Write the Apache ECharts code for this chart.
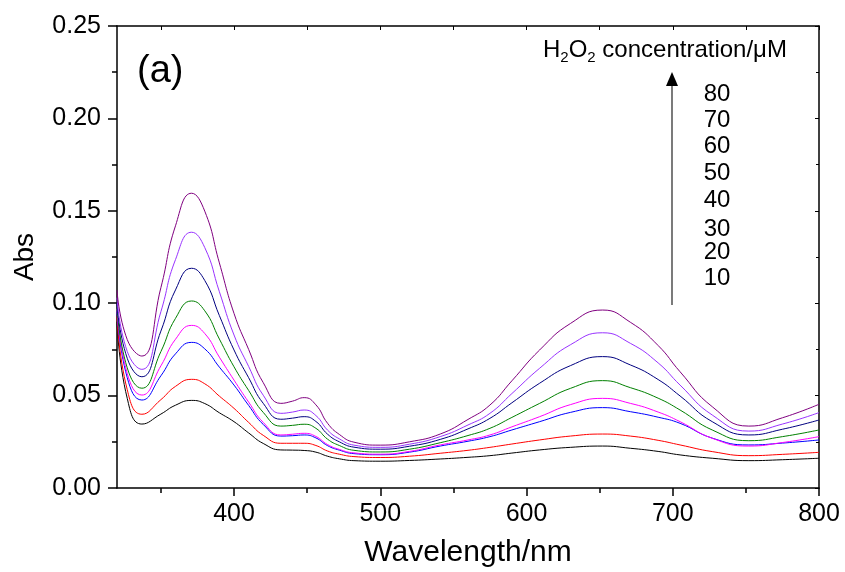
<!DOCTYPE html>
<html>
<head>
<meta charset="utf-8">
<script src="https://cdn.jsdelivr.net/npm/echarts@6/dist/echarts.min.js"></script>
<style>
  html, body { margin: 0; padding: 0; background: #fff; }
  #container { width: 845px; height: 572px; }
</style>
</head>
<body>
<div id="container"></div>
<script>
var dom = document.getElementById("container");
var myChart = echarts.init(dom);

// wavelength (nm) sampled along the spectra
var wavelengths = [320, 327, 337, 350, 360, 371, 380, 390, 400, 410, 420, 432, 440, 448, 456, 464, 472, 482,
    500, 520, 541, 560, 575, 590, 609, 630, 652, 671, 690, 705, 727, 752, 775, 800];

// absorbance for each H2O2 concentration (uM)
var abs10 = [0.090, 0.0485, 0.0346, 0.0400, 0.0448, 0.0474, 0.0457, 0.0407, 0.0359, 0.0298, 0.0241, 0.0206, 0.0205, 0.0203, 0.0194, 0.0172, 0.0158, 0.0148,
    0.0145, 0.0149, 0.0157, 0.0166, 0.0175, 0.0189, 0.0206, 0.0220, 0.0227, 0.0215, 0.0198, 0.0179, 0.0161, 0.0148, 0.0153, 0.0161];
var abs20 = [0.093, 0.0532, 0.0399, 0.0478, 0.0550, 0.0588, 0.0564, 0.0497, 0.0431, 0.0355, 0.0285, 0.0242, 0.0242, 0.0242, 0.0230, 0.0200, 0.0183, 0.0170,
    0.0165, 0.0172, 0.0188, 0.0204, 0.0220, 0.0238, 0.0260, 0.0281, 0.0292, 0.0281, 0.0258, 0.0233, 0.0197, 0.0175, 0.0182, 0.0193];
var abs30 = [0.096, 0.0597, 0.0476, 0.0607, 0.0726, 0.0788, 0.0753, 0.0654, 0.0557, 0.0447, 0.0344, 0.0281, 0.0283, 0.0287, 0.0271, 0.0229, 0.0205, 0.0186,
    0.0180, 0.0194, 0.0227, 0.0253, 0.0278, 0.0314, 0.0359, 0.0409, 0.0435, 0.0413, 0.0383, 0.0350, 0.0270, 0.0233, 0.0243, 0.0260];
var abs40 = [0.097, 0.0620, 0.0503, 0.0661, 0.0805, 0.0880, 0.0836, 0.0708, 0.0584, 0.0465, 0.0355, 0.0287, 0.0291, 0.0296, 0.0279, 0.0235, 0.0209, 0.0190,
    0.0183, 0.0198, 0.0233, 0.0260, 0.0287, 0.0331, 0.0386, 0.0451, 0.0485, 0.0458, 0.0411, 0.0359, 0.0269, 0.0227, 0.0246, 0.0278];
var abs50 = [0.098, 0.0650, 0.0540, 0.0738, 0.0918, 0.1012, 0.0959, 0.0806, 0.0656, 0.0528, 0.0409, 0.0335, 0.0339, 0.0345, 0.0323, 0.0264, 0.0230, 0.0204,
    0.0195, 0.0210, 0.0245, 0.0284, 0.0323, 0.0382, 0.0458, 0.0539, 0.0581, 0.0543, 0.0486, 0.0422, 0.0314, 0.0256, 0.0278, 0.0314];
var abs60 = [0.100, 0.0702, 0.0602, 0.0849, 0.1072, 0.1189, 0.1123, 0.0933, 0.0747, 0.0597, 0.0458, 0.0372, 0.0378, 0.0386, 0.0360, 0.0291, 0.0250, 0.0221,
    0.0210, 0.0226, 0.0263, 0.0320, 0.0377, 0.0461, 0.0567, 0.0662, 0.0711, 0.0666, 0.0587, 0.0498, 0.0359, 0.0287, 0.0318, 0.0368];
var abs70 = [0.103, 0.0739, 0.0642, 0.0954, 0.1236, 0.1384, 0.1301, 0.1062, 0.0828, 0.0658, 0.0502, 0.0404, 0.0411, 0.0422, 0.0392, 0.0313, 0.0266, 0.0232,
    0.0220, 0.0237, 0.0278, 0.0341, 0.0404, 0.0511, 0.0648, 0.0775, 0.0840, 0.0783, 0.0677, 0.0557, 0.0395, 0.0308, 0.0346, 0.0408];
var abs80 = [0.107, 0.0803, 0.0714, 0.1084, 0.1419, 0.1595, 0.1498, 0.1218, 0.0945, 0.0750, 0.0570, 0.0458, 0.0470, 0.0489, 0.0450, 0.0350, 0.0290, 0.0248,
    0.0232, 0.0250, 0.0292, 0.0371, 0.0449, 0.0580, 0.0747, 0.0890, 0.0963, 0.0897, 0.0771, 0.0629, 0.0440, 0.0335, 0.0380, 0.0453];

var concentrations = ['10', '20', '30', '40', '50', '60', '70', '80'];
var spectra = [abs10, abs20, abs30, abs40, abs50, abs60, abs70, abs80];
var colors = ['#000000', '#ff0000', '#0000ff', '#ff00ff', '#008000', '#000080', '#9933ff', '#800080'];

var xMajor = [400, 500, 600, 700, 800];
var xMinor = [350, 450, 550, 650, 750];
var xTop = [350, 400, 450, 500, 550, 600, 650, 700, 750, 800];

var font = 'Liberation Sans, Arial, sans-serif';

var series = spectra.map(function (vals, i) {
    return {
        name: concentrations[i],
        type: 'line',
        xAxisIndex: 0,
        yAxisIndex: 0,
        data: wavelengths.map(function (w, j) { return [w, vals[j]]; }),
        showSymbol: false,
        symbol: 'none',
        smooth: 0.5,
        lineStyle: { width: 1, color: colors[i] },
        itemStyle: { color: colors[i] },
        z: 3 + i
    };
});

// concentration list beside the arrow, top = 80
var labelY = [94, 120, 146, 173, 200, 229, 252, 278];
var concLabels = concentrations.slice().reverse().map(function (c, i) {
    return {
        type: 'text',
        x: 717, y: labelY[i],
        style: { text: c, font: '24px ' + font, fill: '#000', align: 'center', verticalAlign: 'middle' }
    };
});

var axisLineStyle = { color: '#000', width: 1.5 };

option = {
    animation: false,
    backgroundColor: '#fff',
    grid: { left: 117, right: 26, top: 26, bottom: 84, outerBoundsMode: 'none' },
    xAxis: [
        {
            type: 'value', min: 320, max: 800, position: 'bottom',
            name: 'Wavelength/nm', nameLocation: 'middle', nameGap: 50,
            nameTextStyle: { fontSize: 30, color: '#000', fontFamily: font },
            axisLine: { lineStyle: axisLineStyle },
            axisTick: { customValues: xMajor, length: 8, lineStyle: axisLineStyle },
            axisLabel: { customValues: xMajor, fontSize: 25, color: '#000', fontFamily: font, margin: 14 },
            splitLine: { show: false }
        },
        {
            type: 'value', min: 320, max: 800, position: 'bottom',
            axisLine: { show: false },
            axisTick: { customValues: xMinor, length: 5, lineStyle: axisLineStyle },
            axisLabel: { show: false },
            splitLine: { show: false }
        },
        {
            type: 'value', min: 320, max: 800, position: 'top',
            axisLine: { lineStyle: axisLineStyle },
            axisTick: { customValues: xTop, inside: true, length: 4, lineStyle: { color: '#000', width: 1 } },
            axisLabel: { show: false },
            splitLine: { show: false }
        }
    ],
    yAxis: [
        {
            type: 'value', min: 0, max: 0.25, interval: 0.05, position: 'left',
            name: 'Abs', nameLocation: 'middle', nameGap: 78,
            nameTextStyle: { fontSize: 28, color: '#000', fontFamily: font },
            axisLine: { show: true, lineStyle: axisLineStyle },
            axisTick: { show: true, length: 9, lineStyle: axisLineStyle },
            minorTick: { show: true, splitNumber: 2, length: 5, lineStyle: axisLineStyle },
            axisLabel: {
                fontSize: 25, color: '#000', fontFamily: font, margin: 16,
                formatter: function (v) { return v.toFixed(2); }
            },
            splitLine: { show: false }
        },
        {
            type: 'value', min: 0, max: 0.25, interval: 0.05, position: 'right',
            axisLine: { show: true, lineStyle: axisLineStyle },
            axisTick: { show: true, inside: true, length: 4, lineStyle: { color: '#000', width: 1 } },
            minorTick: { show: true, splitNumber: 2, length: 3, lineStyle: { color: '#000', width: 1 } },
            axisLabel: { show: false },
            splitLine: { show: false }
        }
    ],
    graphic: [
        {
            type: 'text', x: 137, y: 72,
            style: { text: '(a)', font: '38px ' + font, fill: '#000', verticalAlign: 'middle' }
        },
        {
            type: 'text', x: 543, y: 50,
            style: {
                text: '{a|H}{s|2}{a|O}{s|2}{a| concentration/μM}',
                fill: '#000',
                verticalAlign: 'middle',
                rich: {
                    a: { fontSize: 24, fontFamily: font, lineHeight: 30, verticalAlign: 'middle', fill: '#000' },
                    s: { fontSize: 15, fontFamily: font, lineHeight: 14, verticalAlign: 'bottom', fill: '#000' }
                }
            }
        },
        {
            type: 'line',
            shape: { x1: 672, y1: 305, x2: 672, y2: 84 },
            style: { stroke: '#222', lineWidth: 1.2 }
        },
        {
            type: 'polygon',
            shape: { points: [[666, 86], [678, 86], [672, 72]] },
            style: { fill: '#000' }
        }
    ].concat(concLabels),
    series: series
};

if (option && typeof option === "object") {
    myChart.setOption(option, true);
}
</script>
</body>
</html>
